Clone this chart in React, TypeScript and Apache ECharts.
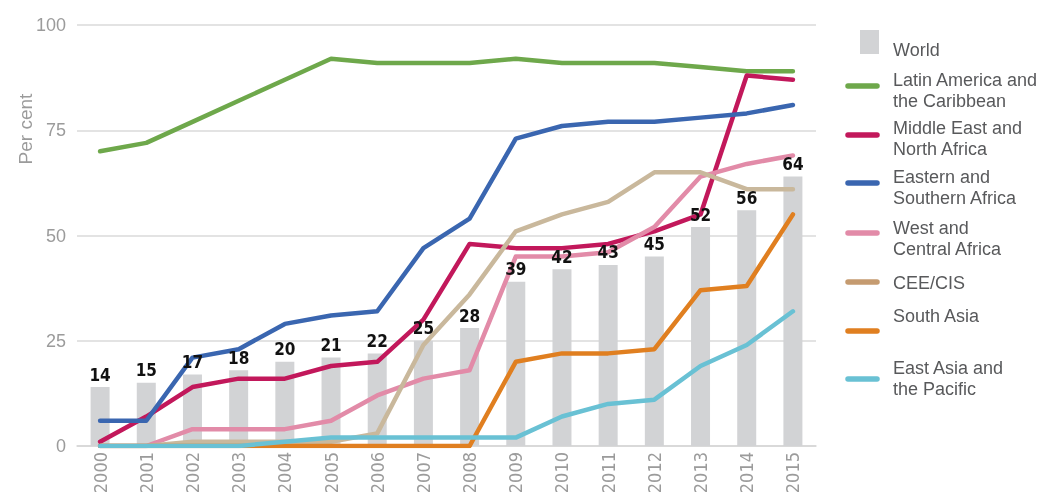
import React, { useEffect, useRef } from "react";
import * as echarts from "echarts";

const years = ["2000", "2001", "2002", "2003", "2004", "2005", "2006", "2007", "2008", "2009", "2010", "2011", "2012", "2013", "2014", "2015"];
const world = [14, 15, 17, 18, 20, 21, 22, 25, 28, 39, 42, 43, 45, 52, 56, 64];
const latinAmerica = [70, 72, 77, 82, 87, 92, 91, 91, 91, 92, 91, 91, 91, 90, 89, 89];
const middleEast = [1, 7, 14, 16, 16, 19, 20, 30, 48, 47, 47, 48, 51, 55, 88, 87];
const easternSouthern = [6, 6, 21, 23, 29, 31, 32, 47, 54, 73, 76, 77, 77, 78, 79, 81];
const westCentral = [0, 0, 4, 4, 4, 6, 12, 16, 18, 45, 45, 46, 52, 64, 67, 69];
const ceeCis = [0, 0, 1, 1, 1, 1, 3, 24, 36, 51, 55, 58, 65, 65, 61, 61];
const southAsia = [0, 0, 0, 0, 0, 0, 0, 0, 0, 20, 22, 22, 23, 37, 38, 55];
const eastAsia = [0, 0, 0, 0, 1, 2, 2, 2, 2, 2, 7, 10, 11, 19, 24, 32];

const yTicks = [0, 25, 50, 75, 100];

const lineNames = [
  "Latin America and the Caribbean",
  "Middle East and North Africa",
  "Eastern and Southern Africa",
  "West and Central Africa",
  "CEE/CIS",
  "South Asia",
  "East Asia and the Pacific",
];
const lineLegendLabels = [
  "Latin America and\nthe Caribbean",
  "Middle East and\nNorth Africa",
  "Eastern and\nSouthern Africa",
  "West and\nCentral Africa",
  "CEE/CIS",
  "South Asia",
  "East Asia and\nthe Pacific",
];
const lineData = [latinAmerica, middleEast, easternSouthern, westCentral, ceeCis, southAsia, eastAsia];
const lineColors = ["#6ea84b", "#c2185b", "#3a66b0", "#e28ba8", "#c9b89c", "#e07f20", "#69c1d4"];
const legendIconColors = ["#6ea84b", "#c2185b", "#3a66b0", "#e28ba8", "#c59b70", "#e07f20", "#69c1d4"];
const legendIconY = [86, 135, 183, 233, 282, 331, 379];
const legendTextY = [90, 138.5, 187.5, 238.5, 283, 316, 378];

const GRAY = "#9b9b9b";
const BAR = "#d2d3d5";
const CONDENSED = '"DejaVu Sans Condensed", "Liberation Sans Narrow", Roboto, sans-serif';

export default function App() {
  const ref = useRef<HTMLDivElement>(null);
  useEffect(() => {
    const chart = echarts.init(ref.current!, null, { renderer: "svg" });
    const graphic: any[] = [
      {
        type: "text",
        x: 25,
        y: 129,
        rotation: Math.PI / 2,
        style: {
          text: "Per cent",
          fill: GRAY,
          font: '19px "Liberation Sans"',
          align: "center",
          verticalAlign: "middle",
        },
      },
      {
        type: "rect",
        shape: { x: 860, y: 30, width: 19, height: 24 },
        style: { fill: BAR },
      },
      {
        type: "text",
        x: 893,
        y: 50,
        style: {
          text: "World",
          fill: "#58595b",
          font: '18px "Liberation Sans"',
          verticalAlign: "middle",
        },
      },
    ];
    lineLegendLabels.forEach((label, i) => {
      graphic.push({
        type: "line",
        shape: { x1: 848, y1: legendIconY[i], x2: 877, y2: legendIconY[i] },
        style: { stroke: legendIconColors[i], lineWidth: 5.5, lineCap: "round" },
      });
      graphic.push({
        type: "text",
        x: 893,
        y: legendTextY[i],
        style: {
          text: label,
          fill: "#58595b",
          font: '18px "Liberation Sans"',
          lineHeight: 21,
          verticalAlign: "middle",
        },
      });
    });

    const option: any = {
      animation: false,
      grid: { left: 77, right: 239, top: 25, bottom: 46, containLabel: false, outerBoundsMode: "none" },
      graphic,
      xAxis: {
        type: "category",
        data: years,
        boundaryGap: true,
        axisLine: { show: true, lineStyle: { color: "#d6d6d6", width: 1.5 } },
        axisTick: { show: false },
        axisLabel: {
          rotate: 90,
          color: GRAY,
          fontFamily: CONDENSED,
          fontSize: 18,
          margin: 6,
          hideOverlap: false,
        },
      },
      yAxis: {
        type: "value",
        min: yTicks[0],
        max: yTicks[yTicks.length - 1],
        interval: 25,
        axisLine: { show: false },
        axisTick: { show: false },
        splitLine: { lineStyle: { color: "#dadada", width: 1.5 } },
        axisLabel: {
          color: GRAY,
          fontFamily: "Liberation Sans",
          fontSize: 18,
          margin: 11,
        },
      },
      series: [
        {
          name: "World",
          type: "bar",
          data: world,
          barWidth: 19,
          itemStyle: { color: BAR },
          z: 2,
        },
        ...lineNames.map((name, i) => ({
          name,
          type: "line",
          data: lineData[i],
          symbol: "none",
          z: 3 + i,
          lineStyle: { color: lineColors[i], width: 4.5, cap: "round", join: "round" },
          itemStyle: { color: lineColors[i] },
        })),
        {
          name: "World labels",
          type: "bar",
          data: world,
          barWidth: 19,
          barGap: "-100%",
          silent: true,
          z: 20,
          itemStyle: { color: "rgba(0,0,0,0)" },
          label: {
            show: true,
            position: "top",
            distance: 4,
            color: "#111",
            fontFamily: CONDENSED,
            fontWeight: "bold",
            fontSize: 17,
          },
        },
      ],
    };
    chart.setOption(option);
    return () => chart.dispose();
  }, []);
  return <div ref={ref} style={{ position: "fixed", left: 0, top: 0, width: 1055, height: 492 }} />;
}
